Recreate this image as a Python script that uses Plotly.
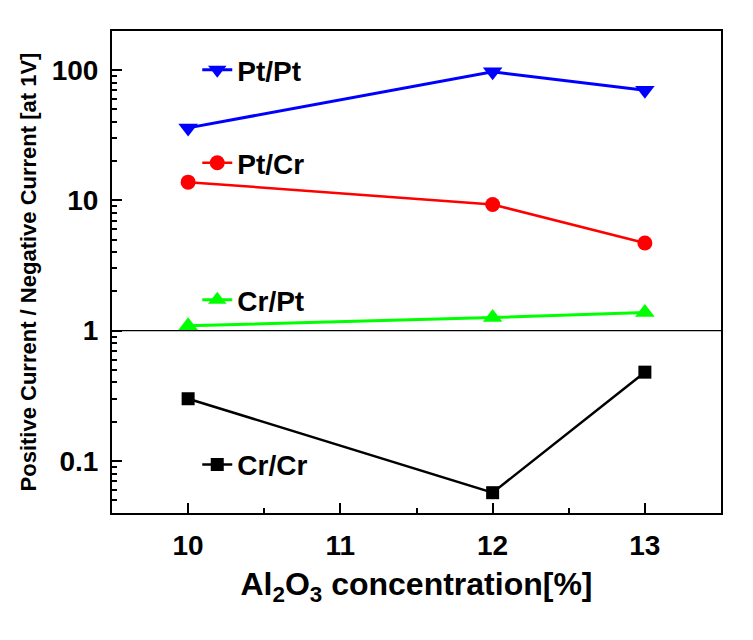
import plotly.graph_objects as go

concentration = [10, 12, 13]
pt_pt = [36, 97, 70]
pt_cr = [13.8, 9.3, 4.7]
cr_pt = [1.09, 1.26, 1.38]
cr_cr = [0.30, 0.057, 0.48]

x_ticks = [10, 11, 12, 13]
y_ticks = [0.1, 1, 10, 100]
y_tick_labels = ["0.1", "1", "10", "100"]
y_minor_ticks = [m * 10.0 ** e for e in range(-2, 3) for m in range(2, 10)]

series = [
    ("Pt/Pt", pt_pt, "#0000FF", "triangle-down", 17, 3, "legend", 0.919),
    ("Pt/Cr", pt_cr, "#FF0000", "circle", 15, 2.5, "legend2", 0.726),
    ("Cr/Pt", cr_pt, "#00FF00", "triangle-up", 17, 3, "legend3", 0.442),
    ("Cr/Cr", cr_cr, "#000000", "square", 13, 2.5, "legend4", 0.100),
]

fig = go.Figure()
layout_legends = {}
for name, vals, color, sym, size, lw, leg, ly in series:
    fig.add_trace(go.Scatter(
        x=concentration, y=vals, mode="lines+markers", name="<b>%s</b>" % name,
        line=dict(color=color, width=lw),
        marker=dict(symbol=sym, size=size, color=color),
        legend=leg,
    ))
    layout_legends[leg] = dict(
        x=0.14, y=ly, xanchor="left", yanchor="middle",
        bgcolor="rgba(0,0,0,0)",
        font=dict(family="Arial, Liberation Sans", size=28, color="black"),
    )

fig.add_shape(type="line", xref="paper", x0=0, x1=1, yref="y", y0=1, y1=1,
              line=dict(color="black", width=1.2))

axis_font = dict(family="Arial, Liberation Sans", size=28, color="black")
fig.update_layout(
    width=753, height=640,
    margin=dict(l=104, r=40, t=23, b=135),
    plot_bgcolor="white", paper_bgcolor="white",
    showlegend=True,
    **layout_legends,
    xaxis=dict(
        range=[9.5, 13.5], tickvals=x_ticks,
        ticktext=["<b>%d</b>" % v for v in x_ticks],
        ticks="inside", ticklen=10, tickwidth=2, tickcolor="black",
        minor=dict(tickvals=[9.5, 10.5, 11.5, 12.5, 13.5], ticks="inside", ticklen=5,
                   tickwidth=1.5, tickcolor="black"),
        showline=True, linecolor="black", linewidth=2, mirror=True,
        showgrid=False, zeroline=False, automargin=False,
        tickfont=axis_font, ticklabelstandoff=6,
        title=dict(text="<b>Al<sub>2</sub>O<sub>3</sub> concentration[%]</b>",
                   font=dict(family="Arial, Liberation Sans", size=32, color="black"),
                   standoff=13),
    ),
    yaxis=dict(
        type="log", range=[-1.4, 2.3], tickvals=y_ticks,
        ticktext=["<b>%s</b>" % t for t in y_tick_labels],
        ticks="inside", ticklen=10, tickwidth=2, tickcolor="black",
        minor=dict(tickvals=y_minor_ticks, ticks="inside", ticklen=5,
                   tickwidth=1.5, tickcolor="black"),
        showline=True, linecolor="black", linewidth=2, mirror=True,
        showgrid=False, zeroline=False, automargin=False,
        tickfont=axis_font, ticklabelstandoff=6,
        title=dict(text="<b>Positive Current / Negative Current [at 1V]</b>",
                   font=dict(family="Arial, Liberation Sans", size=22, color="black"),
                   standoff=9),
    ),
)

fig.write_html("out.html")
